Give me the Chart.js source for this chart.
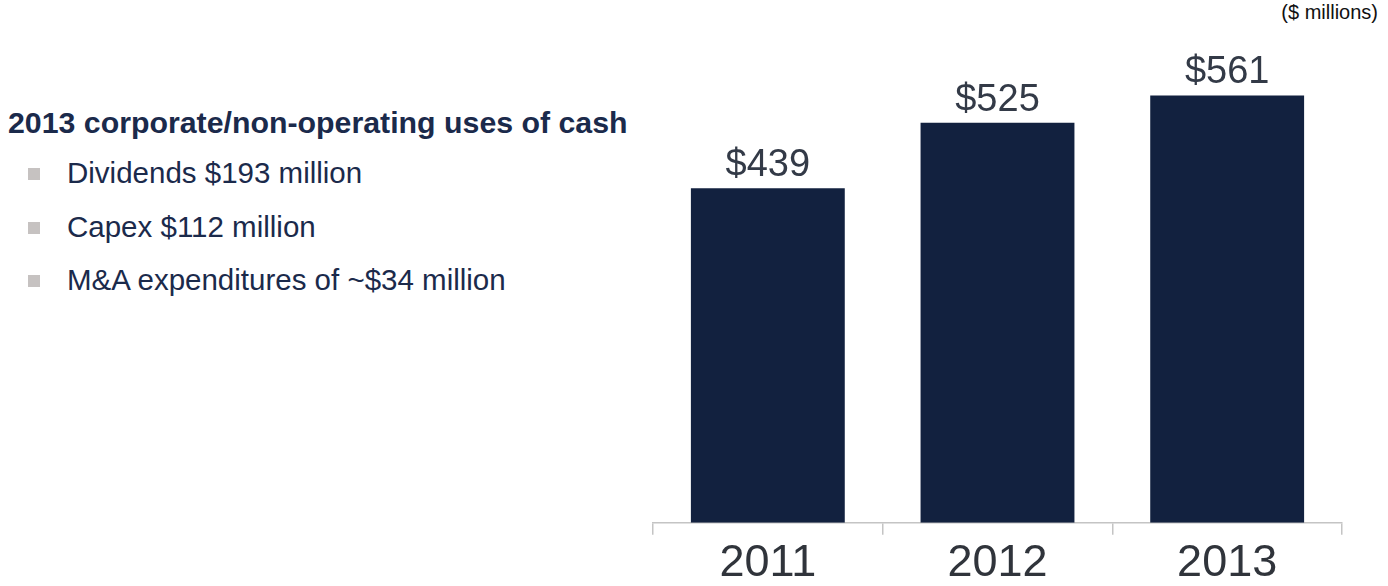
<!DOCTYPE html>
<html lang="en">
<head>
  <meta charset="UTF-8" />
  <title>Corporate uses of cash</title>
  <script src="https://cdn.jsdelivr.net/npm/chart.js"></script>
  <style>
    html, body {
      margin: 0;
      width: 1388px;
      height: 586px;
      overflow: hidden;
      background: #fff;
      font-family: 'Liberation Sans', Arial, sans-serif;
    }
    .units {
      position: absolute;
      right: 10px;
      top: 1px;
      font-size: 20px;
      color: #111;
    }
    .notes {
      position: absolute;
      left: 8px;
      top: 107px;
      color: #1b2a4b;
    }
    .notes h3 {
      margin: 0 0 18px;
      font-size: 30.3px;
      font-weight: bold;
      line-height: 32px;
    }
    .notes ul {
      list-style: none;
      margin: 0;
      padding: 0;
    }
    .notes li {
      position: relative;
      padding-left: 59px;
      font-size: 29.5px;
      line-height: 32px;
      margin-bottom: 21.5px;
    }
    .notes li::before {
      content: "";
      position: absolute;
      left: 20px;
      top: 11px;
      width: 12px;
      height: 12px;
      background: #c6c2c1;
    }
    #wrap {
      position: absolute;
      left: 600px;
      top: 0;
      width: 788px;
      height: 593px;
    }
  </style>
</head>
<body>
  <div class="units">($ millions)</div>

  <div class="notes">
    <h3>2013 corporate/non-operating uses of cash</h3>
    <ul>
      <li>Dividends $193 million</li>
      <li>Capex $112 million</li>
      <li>M&amp;A expenditures of ~$34 million</li>
    </ul>
  </div>

  <div id="wrap"><canvas id="cashChart"></canvas></div>

  <script>
    const years = ["2011", "2012", "2013"];
    const cashValues = [439, 525, 561];
    const valueLabels = ["$439", "$525", "$561"];

    // writes the dollar amount above each bar
    const barLabels = {
      id: "barLabels",
      afterDatasetsDraw(chart) {
        const ctx = chart.ctx;
        const meta = chart.getDatasetMeta(0);
        ctx.save();
        ctx.font = "38px 'Liberation Sans', Arial, sans-serif";
        ctx.fillStyle = "#333a47";
        ctx.textAlign = "center";
        ctx.textBaseline = "alphabetic";
        meta.data.forEach((bar, i) => {
          ctx.fillText(valueLabels[i], bar.x, bar.y - 12);
        });
        ctx.restore();
      }
    };

    new Chart(document.getElementById("cashChart"), {
      type: "bar",
      data: {
        labels: years,
        datasets: [{
          data: cashValues,
          backgroundColor: "#12213f",
          barPercentage: 0.67,
          categoryPercentage: 1
        }]
      },
      options: {
        responsive: true,
        maintainAspectRatio: false,
        animation: false,
        events: [],
        layout: { padding: { left: 53, right: 46, top: 20, bottom: 0 } },
        plugins: {
          legend: { display: false },
          tooltip: { enabled: false }
        },
        scales: {
          x: {
            offset: true,
            grid: {
              display: true,
              drawOnChartArea: false,
              drawTicks: true,
              tickLength: 12,
              color: "#c4c4c4",
              lineWidth: 1.5
            },
            border: { display: true, color: "#c4c4c4", width: 1.5 },
            ticks: {
              color: "#30343b",
              padding: 8,
              font: { family: "'Liberation Sans', Arial, sans-serif", size: 45, lineHeight: 0.94 }
            }
          },
          y: {
            display: false,
            min: 0,
            max: 660
          }
        }
      },
      plugins: [barLabels]
    });
  </script>
</body>
</html>
